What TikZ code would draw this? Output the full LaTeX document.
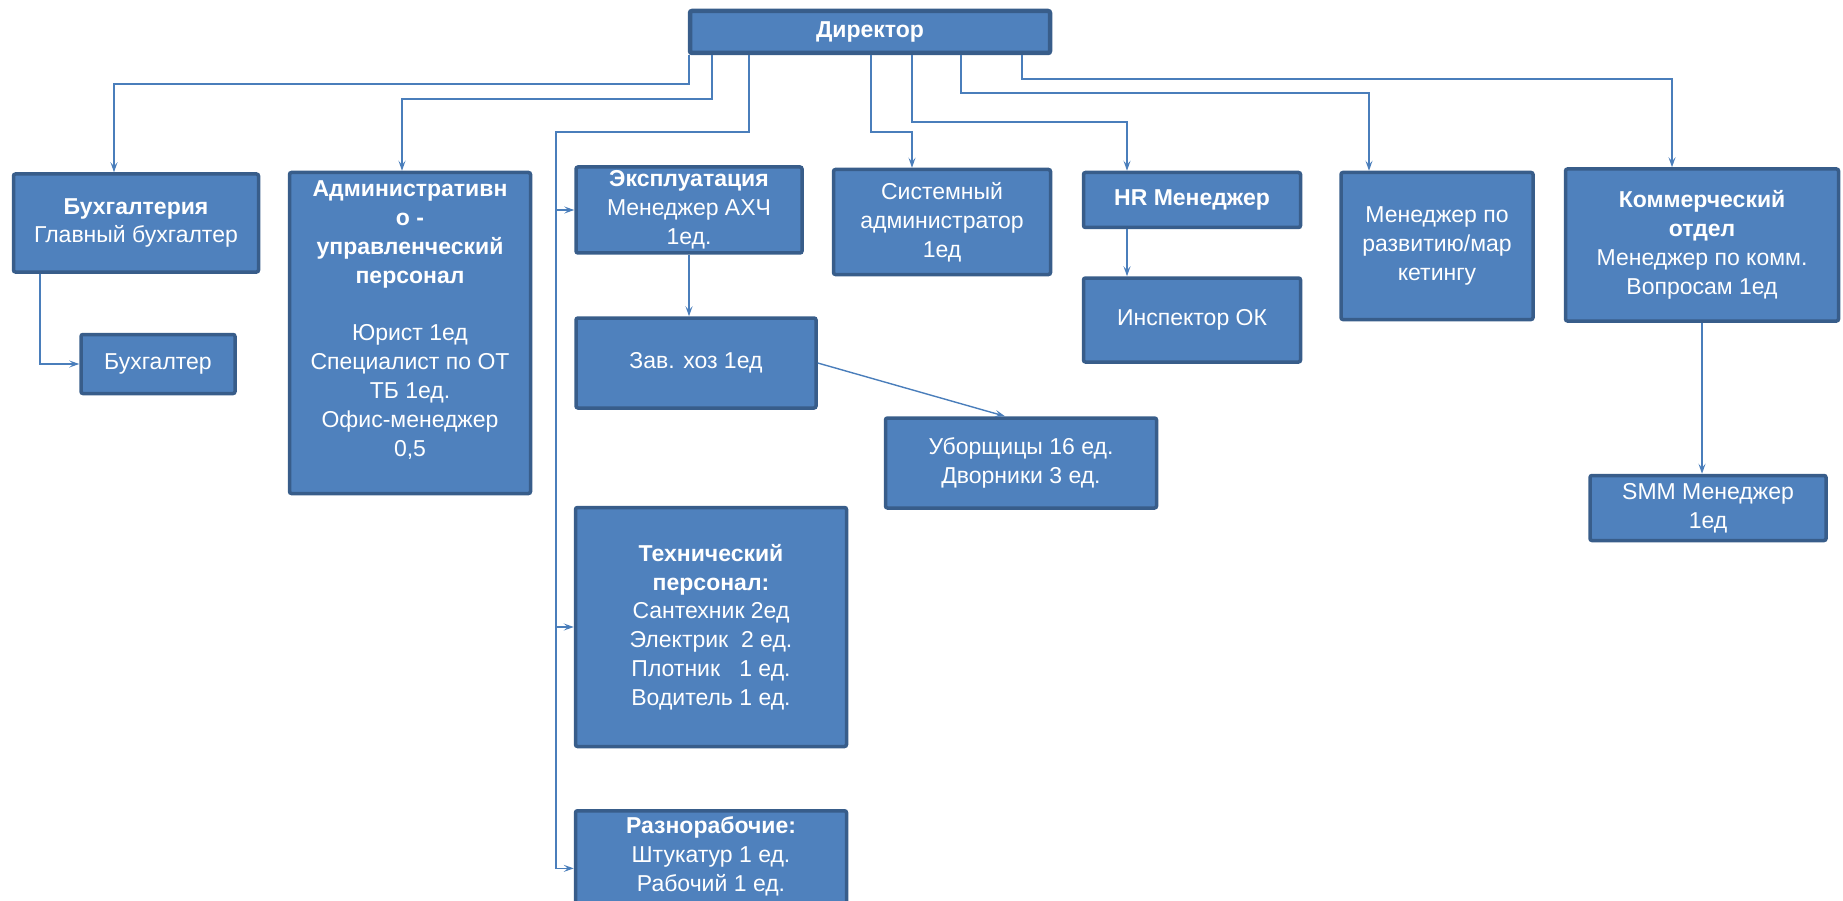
\documentclass[tikz,border=0pt]{standalone}
\usepackage{fontspec}
\setmainfont{Liberation Sans}
\usetikzlibrary{arrows.meta}
\definecolor{boxfill}{RGB}{79,129,189}
\definecolor{boxline}{RGB}{56,93,138}
\definecolor{linkblue}{RGB}{74,126,187}
\newcommand{\orgfont}{\fontsize{23}{28.8}\selectfont}
\begin{document}
\begin{tikzpicture}[x=1pt, y=-1pt,
	unit/.style={draw=boxline, fill=boxfill, line width=3.5pt, rounded corners=2pt, text=white, align=center, font=\orgfont, inner sep=2pt},
	link/.style={draw=linkblue, line width=1.4pt, -{Stealth[length=10pt, width=7pt, inset=4pt]}}]
	\useasboundingbox (0,0) rectangle (1843,901);
	% Director
	\node[unit, line width=4.5pt, minimum width=360, minimum height=42] at (870,32) (dir) {\textbf{Директор}};
	% First row
	\node[unit, minimum width=245, minimum height=98] at (136,223) (buh) {\textbf{Бухгалтерия}\\Главный бухгалтер};
	\node[unit, minimum width=241, minimum height=321] at (410,333) (adm) {\textbf{Административн}\\\textbf{о -}\\\textbf{управленческий}\\\textbf{персонал}\\~\\Юрист 1ед\\Специалист по ОТ\\ТБ 1ед.\\Офис-менеджер\\0,5\\~};
	\node[unit, minimum width=226, minimum height=86] at (689,210) (exp) {\textbf{Эксплуатация}\\Менеджер АХЧ\\1ед.};
	\node[unit, minimum width=217, minimum height=105] at (942,222) (sys) {Системный\\администратор\\1ед};
	\node[unit, minimum width=217, minimum height=55] at (1192,200) (hr) {\textbf{HR Менеджер}};
	\node[unit, minimum width=192, minimum height=147] at (1437,246) (dev) {Менеджер по\\развитию/мар\\кетингу};
	\node[unit, minimum width=273, minimum height=152] at (1702,245) (com) {\textbf{Коммерческий}\\\textbf{отдел}\\Менеджер по комм.\\Вопросам 1ед};
	% Lower boxes
	\node[unit, minimum width=154, minimum height=59] at (158,364) (bux) {Бухгалтер};
	\node[unit, minimum width=240, minimum height=90] at (696,363) (zav) {Зав. хоз 1ед};
	\node[unit, minimum width=271, minimum height=90] at (1021,463) (ubo) {Уборщицы 16 ед.\\Дворники 3 ед.};
	\node[unit, minimum width=271, minimum height=239] at (711,627) (tech) {\textbf{Технический}\\\textbf{персонал:}\\Сантехник 2ед\\Электрик~ 2 ед.\\Плотник~~ 1 ед.\\Водитель 1 ед.};
	\node[unit, minimum width=271, inner ysep=6pt, anchor=north] at (711,809) (raz) {\textbf{Разнорабочие:}\\Штукатур 1 ед.\\Рабочий 1 ед.\\~};
	\node[unit, minimum width=217, minimum height=84] at (1192,320) (ins) {Инспектор ОК};
	\node[unit, minimum width=236, minimum height=65] at (1708,508) (smm) {SMM Менеджер\\1ед};
	% Lines from the director
	\draw[link] (dir.south -| 689,0) |- (114,84) -- (114,0 |- buh.north);
	\draw[link] (dir.south -| 712,0) |- (402,99) -- (402,0 |- adm.north);
	\draw[link] (dir.south -| 749,0) |- (556,132) |- (raz.west);
	\draw[link] (556,0 |- exp.west) -- (exp.west);
	\draw[link] (556,0 |- tech.west) -- (tech.west);
	\draw[link] (dir.south -| 871,0) |- (912,132) -- (912,0 |- sys.north);
	\draw[link] (dir.south -| 912,0) |- (1127,122) -- (1127,0 |- hr.north);
	\draw[link] (dir.south -| 961,0) |- (1369,93) -- (1369,0 |- dev.north);
	\draw[link] (dir.south -| 1022,0) |- (1672,79) -- (1672,0 |- com.north);
	% Lines inside departments
	\draw[link] (buh.south -| 40,0) |- (bux.west);
	\draw[link] (exp.south) -- (exp.south |- zav.north);
	\draw[link] (zav.east) -- ([xshift=-16pt]ubo.north);
	\draw[link] (hr.south -| 1127,0) -- (1127,0 |- ins.north);
	\draw[link] (com.south) -- (com.south |- smm.north);
\end{tikzpicture}
\end{document}
